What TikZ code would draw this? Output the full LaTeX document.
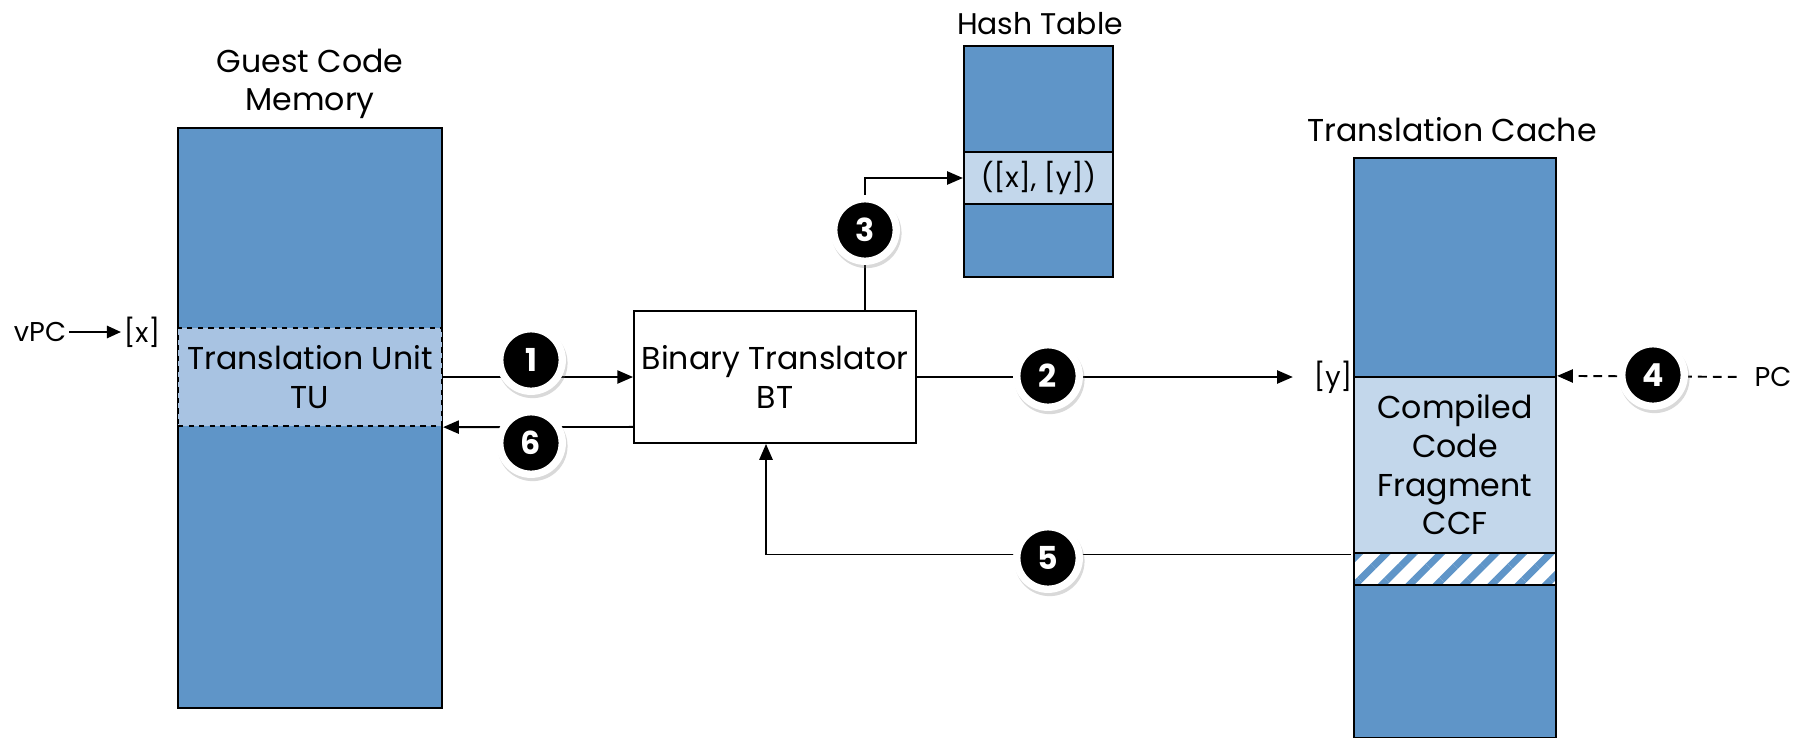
\documentclass[tikz,border=0pt]{standalone}
\usepackage{fontspec}
\setmainfont{Poppins}
\usetikzlibrary{arrows.meta,shadows,patterns.meta}
\definecolor{memblue}{HTML}{5F95C8}
\definecolor{tublue}{HTML}{A8C3E2}
\definecolor{ccfblue}{HTML}{C3D7EB}

\begin{document}
\begin{tikzpicture}[x=0.02cm, y=-0.02cm,
    mem/.style={draw, line width=1.3pt, fill=memblue, inner sep=0pt, minimum width=#1},
    slot/.style={draw, line width=1.3pt, fill=ccfblue, inner sep=0pt, align=center},
    big/.style={align=center, font=\fontsize{18}{22}\selectfont},
    mid/.style={font=\fontsize{16}{19}\selectfont},
    small/.style={inner sep=1.5pt, font=\fontsize{15.5}{18}\selectfont},
    arr/.style={line width=1.1pt, -{Triangle[length=9pt,width=7.5pt]}},
    badge/.style={circle, fill=black, draw=white, line width=4.2pt, minimum size=1.25cm, inner sep=0pt,
        text=white, font=\bfseries\fontsize{18}{18}\selectfont,
        drop shadow={shadow xshift=0.8pt, shadow yshift=-1.6pt, shadow scale=1.12, opacity=0.3}}]
    \useasboundingbox (0,0) rectangle (1805,737);

    \node[mem=5.28cm, minimum height=11.6cm] (guest) at (310,418) {};
    \node[draw, dashed, line width=1.3pt, fill=tublue, inner sep=0pt, minimum width=5.28cm, minimum height=1.96cm, big] (tu) at (310,377) {Translation Unit\\TU};
    \node[big] (guestname) at (310,84) {Guest Code\\Memory};

    \node[mem=2.98cm, minimum height=4.62cm] (hash) at (1038.5,161.5) {};
    \node[slot, minimum width=2.98cm, minimum height=1.04cm, mid] (entry) at (1038.5,178) {([x], [y])};
    \node[font=\fontsize{17}{20}\selectfont] (hashname) at (1040,24) {Hash Table};

    \node[mem=4.04cm, minimum height=11.6cm] (cache) at (1455,448) {};
    \node[slot, minimum width=4.04cm, minimum height=3.52cm, big] (ccf) at (1455,465) {Compiled\\Code\\Fragment\\CCF};
    \node[draw, line width=1.3pt, inner sep=0pt, minimum width=4.04cm, minimum height=0.64cm,
        preaction={fill=white}, pattern={Lines[angle=45,distance=11pt,line width=4pt]}, pattern color=memblue] (hatch) at (1455,569) {};
    \node[big] (cachename) at (1452,130) {Translation Cache};

    \node[draw, line width=1.1pt, minimum width=5.64cm, minimum height=2.64cm, big] (bt) at (775,377) {Binary Translator\\BT};

    \node[small] (vpc) at (40,332) {vPC};
    \node[small] (xaddr) at (142,332) {[x]};
    \node[small] (yaddr) at (1333,377) {[y]};
    \node[small] (pc) at (1773,377) {PC};

    \draw[line width=1.1pt, -{Triangle[length=8pt,width=7pt]}] (vpc) -- (xaddr);
    \draw[arr] (tu.east) -- (bt.west);
    \draw[arr] ([yshift=0.34cm]bt.south west) -- (tu.south east);
    \draw[arr, shorten >=0.36cm] (bt.east) -- (yaddr.west);
    \draw[arr] ([xshift=1.8cm]bt.north) |- (entry.west);
    \draw[arr, dash pattern=on 5pt off 3.5pt, shorten <=0.3cm] (pc.west) -- (ccf.north east);
    \draw[arr] ([yshift=-0.1cm]hatch.north west) -| ([xshift=-0.18cm]bt.south);

    \node[badge] (c1) at (531,360) {1};
    \node[badge] (c2) at (1048,376) {2};
    \node[badge] (c3) at (865,230) {3};
    \node[badge] (c4) at (1653,375) {4};
    \node[badge] (c5) at (1048,558) {5};
    \node[badge] (c6) at (531,443) {6};
\end{tikzpicture}
\end{document}
